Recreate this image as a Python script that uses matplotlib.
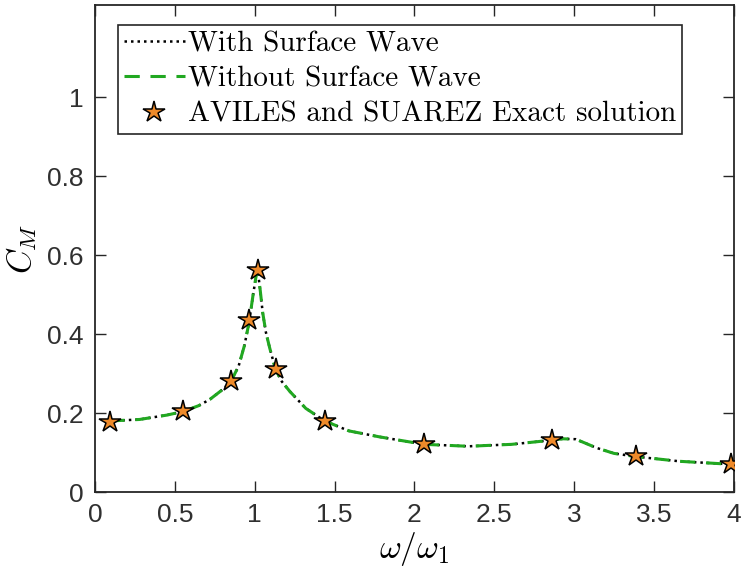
import numpy as np
import matplotlib
matplotlib.use("Agg")
import matplotlib.pyplot as plt

# frequency ratio and moment coefficient
w_curve = [0.09, 0.28, 0.45, 0.55, 0.65, 0.72, 0.80, 0.854, 0.90, 0.935, 0.965,
           0.99, 1.01, 1.02, 1.035, 1.05, 1.07, 1.094, 1.131, 1.17, 1.22, 1.32,
           1.44, 1.59, 1.78, 2.06, 2.34, 2.61, 2.80, 2.93, 3.01, 3.07, 3.14,
           3.25, 3.385, 3.66, 4.0]
cm_with = [0.180, 0.184, 0.195, 0.204, 0.219, 0.235, 0.260, 0.282, 0.320, 0.370, 0.430,
           0.500, 0.550, 0.558, 0.510, 0.455, 0.405, 0.365, 0.310, 0.280, 0.255, 0.212,
           0.180, 0.155, 0.140, 0.121, 0.116, 0.121, 0.129, 0.135, 0.134, 0.124, 0.112,
           0.098, 0.090, 0.078, 0.070]
cm_without = cm_with  # both curves coincide on the plot

w_exact = [0.094, 0.548, 0.854, 0.965, 1.021, 1.131, 1.44, 2.062, 2.86, 3.385, 3.98]
cm_exact = [0.177, 0.205, 0.281, 0.436, 0.563, 0.311, 0.179, 0.122, 0.132, 0.091, 0.071]

xticks = [0, 0.5, 1, 1.5, 2, 2.5, 3, 3.5, 4]
xticklabels = ["0", "0.5", "1", "1.5", "2", "2.5", "3", "3.5", "4"]
yticks = [0, 0.2, 0.4, 0.6, 0.8, 1]
yticklabels = ["0", "0.2", "0.4", "0.6", "0.8", "1"]

plt.rcParams['mathtext.fontset'] = 'cm'

fig = plt.figure(figsize=(7.42, 5.81), dpi=100)
ax = fig.add_axes([0.128, 0.153, 0.861, 0.838])

ax.plot(w_curve, cm_with, color='black', linestyle=(0, (1, 1.6)), linewidth=1.8,
        label='With Surface Wave', zorder=2)
ax.plot(w_curve, cm_without, color='#21a821', linestyle=(0, (5, 3.5)), linewidth=2.2,
        label='Without Surface Wave', zorder=3)
ax.plot(w_exact, cm_exact, linestyle='none', marker='*', markersize=16,
        markerfacecolor='#ee8a2a', markeredgecolor='black', markeredgewidth=1.1,
        label='AVILES and SUAREZ Exact solution', zorder=4)

ax.set_xlim(0, 4)
ax.set_ylim(0, 1.233)
ax.set_xticks(xticks)
ax.set_xticklabels(xticklabels)
ax.set_yticks(yticks)
ax.set_yticklabels(yticklabels)
ax.tick_params(direction='in', length=8, width=1.0, top=True, right=True,
               labelsize=19, colors='#262626', pad=8)
for lab in ax.get_xticklabels() + ax.get_yticklabels():
    lab.set_family(['Liberation Sans', 'DejaVu Sans'])
    lab.set_color('#303030')
for sp in ax.spines.values():
    sp.set_linewidth(1.3)
    sp.set_color('#262626')

ax.set_xlabel(r'$\omega/\omega_1$', fontsize=24, labelpad=2)
ax.set_ylabel(r'$C_M$', fontsize=24, labelpad=6)

leg = ax.legend(loc='upper left', bbox_to_anchor=(0.036, 0.959), borderaxespad=0,
                prop={'family': 'cmr10', 'size': 21}, fancybox=False, framealpha=1,
                edgecolor='#262626', handlelength=2.1, handletextpad=0.1,
                borderpad=0.2, labelspacing=0.3)
leg.get_frame().set_linewidth(1.2)

fig.savefig('out.png', dpi=100)
